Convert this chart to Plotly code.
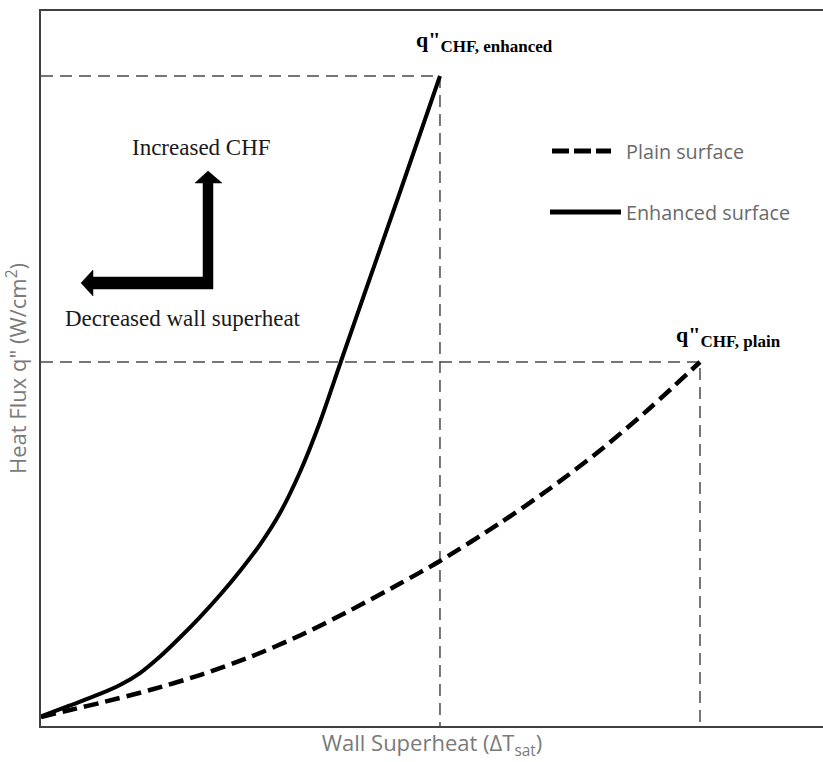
import plotly.graph_objects as go

# Boiling curves: wall superheat vs. heat flux (arbitrary units)
plain_dT = [0, 3.71, 7.54, 13.94, 20.33, 26.73, 33.12, 39.51, 45.91, 51.02,
            58.70, 65.09, 71.48, 77.88, 84.27]
plain_q = [1.26, 2.24, 3.22, 5.03, 7.13, 9.65, 12.66, 16.15, 19.93, 23.08,
           28.39, 33.22, 38.53, 44.48, 50.91]
enh_dT = [0, 3.71, 7.54, 10.10, 12.66, 15.22, 17.77, 20.33, 22.89, 25.45,
          28.01, 30.56, 33.12, 35.68, 38.24, 42.07, 45.91, 51.02]
enh_q = [1.33, 2.87, 4.48, 5.73, 7.41, 9.72, 12.38, 15.24, 18.32, 21.68,
         25.38, 29.79, 35.52, 42.52, 50.63, 62.66, 74.69, 90.91]

series_names = ["Plain surface", "Enhanced surface"]
chf_labels = ["CHF, plain", "CHF, enhanced"]
x_title = "Wall Superheat (ΔT<sub>sat</sub>)"
y_title = "Heat Flux q\" (W/cm<sup>2</sup>)"

W, H = 823, 762
ML, MR, MT, MB = 41, 0, 11, 36
PW, PH = W - ML - MR, H - MT - MB


def paper(px, py):
    """Convert a page pixel position into paper coordinates of the plot area."""
    return (px - ML) / PW, (H - MB - py) / PH


fig = go.Figure()

guide = dict(color="#4a4a4a", width=1.5, dash="12px,7px")
for xs, ys in ((plain_dT, plain_q), (enh_dT, enh_q)):
    cx, cy = xs[-1], ys[-1]
    fig.add_trace(go.Scatter(x=[0, cx, cx], y=[cy, cy, 0], mode="lines",
                             line=guide, hoverinfo="skip", showlegend=False))

fig.add_trace(go.Scatter(x=plain_dT, y=plain_q, mode="lines", name=series_names[0],
                         line=dict(color="black", width=4.5, dash="15px,7px",
                                   shape="spline", smoothing=0.8),
                         showlegend=False))
fig.add_trace(go.Scatter(x=enh_dT, y=enh_q, mode="lines", name=series_names[1],
                         line=dict(color="black", width=4, shape="spline", smoothing=0.8),
                         showlegend=False))

# CHF point labels
sub_style = "font-size:17px"
for xs, ys, lab, dy in ((plain_dT, plain_q, chf_labels[0], 25),
                        (enh_dT, enh_q, chf_labels[1], 34)):
    fig.add_annotation(x=xs[-1], y=ys[-1], xref="x", yref="y",
                       text=f"<b>q\"<sub><span style='{sub_style}'>{lab}</span></sub></b>",
                       showarrow=False, xanchor="left", yanchor="middle",
                       xshift=-26, yshift=dy,
                       font=dict(family="Liberation Serif", size=22, color="black"))

# Hand-drawn legend
leg_font = dict(family="Open Sans", size=19.8, color="#6a6a6a")
shapes = []
x0, y0 = paper(552, 151)
x1, _ = paper(611, 151)
shapes.append(dict(type="line", xref="paper", yref="paper", x0=x0, x1=x1, y0=y0, y1=y0,
                   line=dict(color="black", width=5, dash="17px,5px")))
x0, y1 = paper(550, 212)
x1, _ = paper(621, 212)
shapes.append(dict(type="line", xref="paper", yref="paper", x0=x0, x1=x1, y0=y1, y1=y1,
                   line=dict(color="black", width=5)))
tx, _ = paper(624, 0)
fig.add_annotation(x=tx, y=y0, xref="paper", yref="paper", text=series_names[0],
                   showarrow=False, xanchor="left", yanchor="middle", font=leg_font)
fig.add_annotation(x=tx, y=y1, xref="paper", yref="paper", text=series_names[1],
                   showarrow=False, xanchor="left", yanchor="middle", font=leg_font)

# L-shaped direction arrow
arrow_px = [(208, 171), (222, 183), (213, 183), (213, 289), (93, 289), (93, 296),
            (81, 283), (93, 270), (93, 277), (203, 277), (203, 183), (195, 183)]
pts = [paper(px, py) for px, py in arrow_px]
path = "M " + " L ".join(f"{a:.5f},{b:.5f}" for a, b in pts) + " Z"
shapes.append(dict(type="path", xref="paper", yref="paper", path=path,
                   fillcolor="black", line=dict(color="black", width=0.5)))

serif = dict(family="Liberation Serif", size=23, color="#1a1a1a")
ax, ay = paper(201, 147)
fig.add_annotation(x=ax, y=ay, xref="paper", yref="paper", text="Increased CHF",
                   showarrow=False, xanchor="center", yanchor="middle", font=serif)
ax, ay = paper(183, 318)
fig.add_annotation(x=ax, y=ay, xref="paper", yref="paper", text="Decreased wall superheat",
                   showarrow=False, xanchor="center", yanchor="middle", font=serif)

title_font = dict(family="Open Sans", size=22, color="#7a7a7a")
fig.update_layout(
    width=W, height=H,
    margin=dict(l=ML, r=MR, t=MT, b=MB),
    paper_bgcolor="white", plot_bgcolor="white",
    shapes=shapes,
    xaxis=dict(range=[0, 100], showgrid=False, zeroline=False, showticklabels=False,
               ticks="", showline=True, linecolor="#404040", linewidth=2, mirror=True,
               title=dict(text=x_title, font=title_font, standoff=9)),
    yaxis=dict(range=[0, 100], showgrid=False, zeroline=False, showticklabels=False,
               ticks="", showline=True, linecolor="#404040", linewidth=2,
               title=dict(text=y_title, font=title_font, standoff=6)),
)

fig.write_html("out.html")
